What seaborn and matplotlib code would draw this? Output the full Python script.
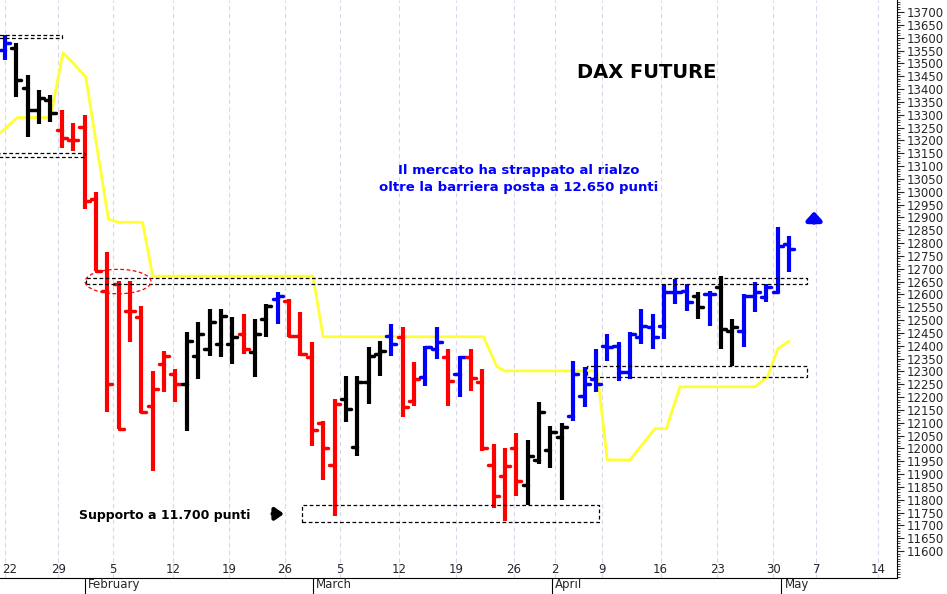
import numpy as np
import pandas as pd
import matplotlib
matplotlib.use("Agg")
import matplotlib.pyplot as plt
import seaborn as sns
from matplotlib.patches import Rectangle, Ellipse

# daily bars (trading-day index 0 = 22 Jan)
opens = [13553, 13560, 13405, 13320, 13359, 13242, 13203, 13254, 12970, 12613,
         12640, 12536, 12512, 12167, 12330, 12291, 12252, 12361, 12388, 12407,
         12407, 12446, 12376, 12504, 12582, 12574, 12438, 12357, 12097, 11934,
         12194, 12007, 12260, 12369, 12438, 12435, 12186, 12279, 12388, 12357,
         12291, 12357, 12260, 11934, 11891, 12000, 11856, 11953, 11992, 12046,
         12128, 12205, 12271, 12400, 12400, 12299, 12435, 12473, 12477, 12609,
         12613, 12594, 12601, 12629, 12458, 12458, 12594, 12590, 12609, 12796]
highs = [13611, 13580, 13456, 13398, 13378, 13320, 13269, 13300, 12998, 12765,
         12652, 12652, 12555, 12303, 12380, 12310, 12454, 12493, 12543, 12543,
         12512, 12524, 12504, 12563, 12609, 12582, 12532, 12415, 12108, 12194,
         12283, 12283, 12396, 12419, 12485, 12473, 12337, 12400, 12473, 12388,
         12361, 12388, 12310, 12019, 12000, 12058, 12031, 12182, 12089, 12097,
         12341, 12318, 12388, 12446, 12415, 12454, 12543, 12524, 12640, 12660,
         12640, 12609, 12613, 12671, 12504, 12601, 12648, 12640, 12862, 12827]
lows = [13514, 13370, 13215, 13262, 13273, 13172, 13157, 12932, 12691, 12143,
        12077, 12415, 12136, 11910, 12221, 12182, 12066, 12271, 12361, 12357,
        12330, 12369, 12279, 12435, 12485, 12435, 12361, 12011, 11875, 11736,
        12104, 11969, 12174, 12283, 12361, 12124, 12167, 12244, 12349, 12167,
        12202, 12225, 11988, 11767, 11716, 11813, 11778, 11941, 11922, 11798,
        12108, 12163, 12221, 12341, 12264, 12271, 12407, 12388, 12427, 12563,
        12536, 12504, 12477, 12388, 12322, 12396, 12532, 12571, 12609, 12687]
closes = [13580, 13436, 13320, 13366, 13308, 13211, 13203, 12963, 12691, 12252,
          12077, 12536, 12143, 12233, 12361, 12252, 12419, 12446, 12493, 12516,
          12435, 12388, 12446, 12555, 12594, 12438, 12369, 12070, 12000, 12174,
          12155, 12260, 12361, 12380, 12407, 12163, 12271, 12396, 12415, 12264,
          12357, 12275, 12000, 11813, 11930, 11872, 11969, 12143, 12062, 12085,
          12291, 12252, 12252, 12396, 12299, 12446, 12477, 12435, 12609, 12609,
          12570, 12551, 12601, 12466, 12473, 12594, 12609, 12629, 12788, 12776]
bar_colors = (["blue"] + ["black"] * 4 + ["red"] * 11 + ["black"] * 5 + ["red"]
              + ["black"] * 2 + ["blue"] + ["red"] * 5 + ["black"] * 4 + ["blue"]
              + ["red"] * 2 + ["blue"] * 2 + ["red"] + ["blue"] + ["red"] * 5
              + ["black"] * 4 + ["blue"] * 11 + ["black"] + ["blue"] + ["black"] * 2
              + ["blue"] * 5)

# yellow stop line
stop_x = [-0.4, 1.1, 4.0, 5.1, 5.9, 7.1, 9.1, 10, 12.1, 13, 27.1, 28, 42.1, 43.3,
          44, 52.1, 53, 55, 57.2, 58.2, 59.4, 66, 67.1, 68, 69]
stop_y = [13230, 13289, 13289, 13541, 13506, 13448, 12893, 12881, 12881, 12671,
          12671, 12435, 12435, 12318, 12302, 12302, 11955, 11955, 12077, 12077,
          12240, 12240, 12279, 12388, 12418]

week_pos = [0, 4.7, 9.5, 14.8, 19.7, 24.6, 29.5, 34.7, 39.7, 44.8, 48.4, 52.5,
            57.7, 62.7, 67.6, 71.4, 76.8]
week_labels = ["22", "29", "5", "12", "19", "26", "5", "12", "19", "26", "2", "9",
               "16", "23", "30", "7", "14"]
month_pos = [7.0, 27.1, 48.1, 68.3]
month_labels = ["February", "March", "April", "May"]

sns.set_style("white")
plt.rcParams["font.family"] = ["DejaVu Sans"]

fig = plt.figure(figsize=(9.47, 5.94), dpi=100)
ax = fig.add_axes([0, 16 / 594, 897 / 947, 578 / 594])
ax.set_xlim(-0.44, 78.5)
ax.set_ylim(11495, 13747)

for p in week_pos:
    ax.axvline(p, color="#d8d8ec", lw=0.8, ls=(0, (4, 3)), zorder=0)

df = pd.DataFrame({"o": opens, "h": highs, "l": lows, "c": closes, "col": bar_colors})
for i, r in df.iterrows():
    ax.plot([i, i], [r.l, r.h], color=r.col, lw=3, solid_capstyle="butt", zorder=3)
    ax.plot([i - 0.45, i], [r.o, r.o], color=r.col, lw=2.5, zorder=3)
    ax.plot([i, i + 0.45], [r.c, r.c], color=r.col, lw=2.5, zorder=3)

sns.lineplot(x=stop_x, y=stop_y, color="#ffff33", lw=2, ax=ax, zorder=2, sort=False)

boxes = [(-0.5, 13600, 5.5, 10), (-0.5, 13135, 7.5, 15), (7.1, 12640, 63.5, 25),
         (51.2, 12280, 19.4, 40), (26.1, 11715, 26.2, 65)]
for bx, by, bw, bh in boxes:
    ax.add_patch(Rectangle((bx, by), bw, bh, fill=False, ls=(0, (3, 2)),
                           lw=0.9, ec="black", zorder=4))
ax.add_patch(Ellipse((9.95, 12650), 5.8, 95, fill=False, ec="red",
                     ls=(0, (3, 2)), lw=0.9, zorder=4))

ax.text(56.5, 13445, "DAX FUTURE", fontsize=14, fontweight="bold", ha="center",
        color="black")
ax.text(45.2, 13070, "Il mercato ha strappato al rialzo", color="blue",
        fontsize=9.5, fontweight="bold", ha="center")
ax.text(45.2, 13003, "oltre la barriera posta a 12.650 punti", color="blue",
        fontsize=9.5, fontweight="bold", ha="center")
ax.text(6.5, 11738, "Supporto a 11.700 punti", fontsize=9, fontweight="bold",
        va="center", color="black")
ax.annotate("", xy=(24.8, 11745), xytext=(23.3, 11745),
            arrowprops=dict(arrowstyle="-|>,head_width=0.35,head_length=0.5",
                            lw=3, color="black"))
ax.annotate("", xy=(71.2, 12935), xytext=(71.2, 12870),
            arrowprops=dict(arrowstyle="-|>,head_width=0.45,head_length=0.5",
                            lw=3.5, color="blue"))

for p, lab in zip(week_pos, week_labels):
    ax.text(max(p, 0.4), 11530, lab, ha="center", va="center", fontsize=8.5)
ax.set_xticks([])

ax.yaxis.tick_right()
ax.set_yticks(np.arange(11600, 13701, 50))
ax.set_yticks(np.arange(11500, 13750, 10), minor=True)
ax.tick_params(axis="y", which="major", length=5, labelsize=8.5, pad=2, direction="out")
ax.tick_params(axis="y", which="minor", length=2, direction="out")
for s in ax.spines.values():
    s.set_color("black")
    s.set_linewidth(0.8)
ax.spines["left"].set_visible(False)
ax.spines["top"].set_visible(False)

for p, lab in zip(month_pos, month_labels):
    ax.text(p + 0.3, 11495, lab, ha="left", va="top", fontsize=8.5, clip_on=False)
    ax.plot([p, p], [11495, 11430], color="black", lw=0.8, clip_on=False)

fig.savefig("out.png", dpi=100)
